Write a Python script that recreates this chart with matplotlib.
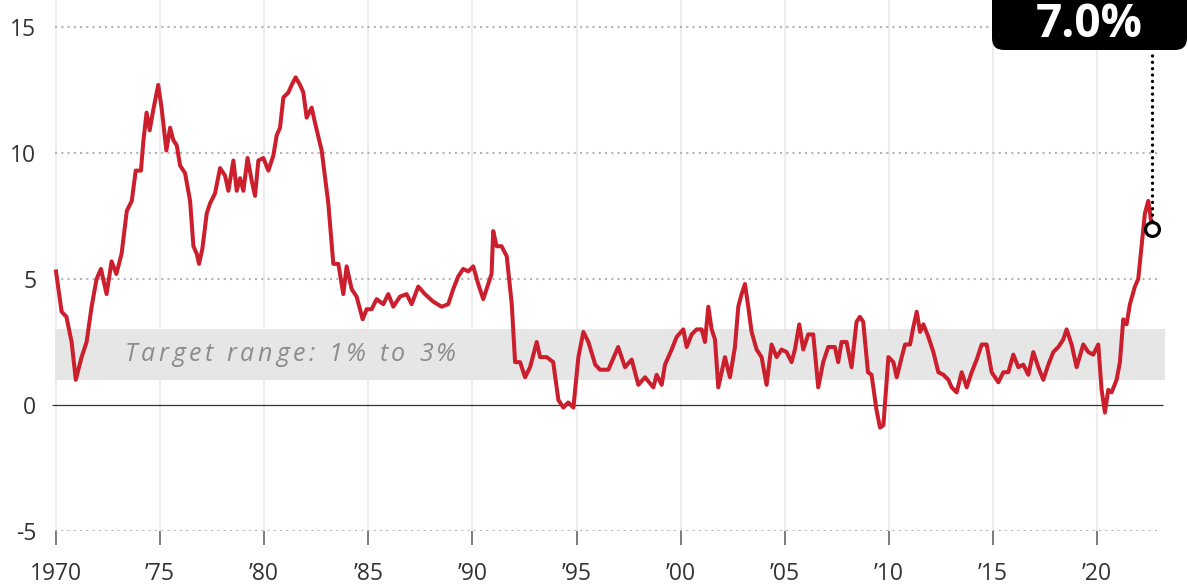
import matplotlib.pyplot as plt
from matplotlib.patches import FancyBboxPatch

# Year-over-year CPI change, %
years = [
    1970.0, 1970.27, 1970.5, 1970.75, 1970.95, 1971.23, 1971.47, 1971.71, 1971.95,
    1972.16, 1972.43, 1972.67, 1972.9, 1973.15, 1973.4, 1973.64, 1973.83, 1974.08,
    1974.2, 1974.35, 1974.5, 1974.67, 1974.91, 1975.07, 1975.3, 1975.48, 1975.64,
    1975.8, 1975.96, 1976.2, 1976.44, 1976.6, 1976.76, 1976.87, 1977.03, 1977.24,
    1977.4, 1977.64, 1977.88, 1978.12, 1978.28, 1978.52, 1978.68, 1978.84, 1979.0,
    1979.2, 1979.4, 1979.56, 1979.72, 1979.96, 1980.2, 1980.44, 1980.6, 1980.76,
    1980.92, 1981.16, 1981.32, 1981.51, 1981.72, 1981.88, 1982.04, 1982.28, 1982.44,
    1982.76, 1983.08, 1983.32, 1983.56, 1983.8, 1983.96, 1984.2, 1984.44, 1984.73,
    1984.92, 1985.16, 1985.4, 1985.72, 1985.96, 1986.2, 1986.52, 1986.84, 1987.08,
    1987.4, 1987.72, 1988.12, 1988.52, 1988.84, 1989.08, 1989.32, 1989.56, 1989.8,
    1990.04, 1990.28, 1990.52, 1990.76, 1990.92, 1991.0, 1991.16, 1991.4, 1991.65,
    1991.89, 1992.05, 1992.29, 1992.53, 1992.77, 1993.09, 1993.25, 1993.57, 1993.88,
    1994.13, 1994.37, 1994.6, 1994.85, 1995.09, 1995.33, 1995.57, 1995.9, 1996.13,
    1996.53, 1997.0, 1997.33, 1997.65, 1997.97, 1998.29, 1998.69, 1998.85, 1999.09,
    1999.25, 1999.57, 1999.81, 2000.13, 2000.29, 2000.53, 2000.77, 2001.01, 2001.17,
    2001.33, 2001.49, 2001.65, 2001.81, 2001.97, 2002.13, 2002.37, 2002.61, 2002.77,
    2002.93, 2003.09, 2003.25, 2003.41, 2003.65, 2003.89, 2004.13, 2004.37, 2004.61,
    2004.85, 2005.09, 2005.33, 2005.49, 2005.7, 2005.89, 2006.13, 2006.37, 2006.61,
    2006.85, 2007.09, 2007.41, 2007.57, 2007.73, 2007.97, 2008.21, 2008.45, 2008.61,
    2008.77, 2009.0, 2009.17, 2009.41, 2009.58, 2009.74, 2009.98, 2010.22, 2010.38,
    2010.62, 2010.78, 2011.02, 2011.18, 2011.34, 2011.5, 2011.66, 2011.9, 2012.14,
    2012.38, 2012.62, 2012.86, 2013.02, 2013.26, 2013.5, 2013.74, 2013.98, 2014.22,
    2014.46, 2014.7, 2014.94, 2015.26, 2015.5, 2015.74, 2015.98, 2016.22, 2016.46,
    2016.7, 2016.94, 2017.18, 2017.42, 2017.66, 2017.9, 2018.14, 2018.38, 2018.54,
    2018.78, 2019.02, 2019.34, 2019.58, 2019.82, 2020.06, 2020.22, 2020.38, 2020.54,
    2020.7, 2020.94, 2021.1, 2021.26, 2021.42, 2021.58, 2021.82, 2021.98, 2022.14,
    2022.3, 2022.46, 2022.55, 2022.64,
]
cpi = [
    5.3, 3.7, 3.5, 2.5, 1.0, 1.9, 2.5, 3.9, 5.0,
    5.4, 4.4, 5.7, 5.2, 6.0, 7.7, 8.1, 9.3, 9.3,
    10.5, 11.6, 10.9, 11.7, 12.7, 11.8, 10.1, 11.0, 10.5,
    10.3, 9.5, 9.2, 8.1, 6.3, 6.0, 5.6, 6.2, 7.6,
    8.0, 8.4, 9.4, 9.1, 8.5, 9.7, 8.5, 9.0, 8.5,
    9.8, 8.9, 8.3, 9.7, 9.8, 9.3, 9.9, 10.7, 11.0,
    12.2, 12.4, 12.7, 13.0, 12.7, 12.4, 11.4, 11.8, 11.2,
    10.1, 8.0, 5.6, 5.6, 4.4, 5.5, 4.6, 4.3, 3.4,
    3.8, 3.8, 4.2, 4.0, 4.4, 3.9, 4.3, 4.4, 4.0,
    4.7, 4.4, 4.1, 3.9, 4.0, 4.6, 5.1, 5.4, 5.3,
    5.5, 4.8, 4.2, 4.8, 5.2, 6.9, 6.3, 6.3, 5.9,
    4.0, 1.7, 1.7, 1.1, 1.5, 2.5, 1.9, 1.9, 1.7,
    0.2, -0.1, 0.1, -0.1, 1.9, 2.9, 2.5, 1.6, 1.4,
    1.4, 2.3, 1.5, 1.8, 0.8, 1.1, 0.7, 1.2, 0.8,
    1.6, 2.2, 2.7, 3.0, 2.3, 2.8, 3.0, 3.0, 2.5,
    3.9, 3.0, 2.6, 0.7, 1.3, 1.9, 1.1, 2.3, 3.9,
    4.4, 4.8, 3.9, 2.9, 2.2, 1.9, 0.8, 2.4, 1.9,
    2.2, 2.1, 1.7, 2.2, 3.2, 2.2, 2.8, 2.8, 0.7,
    1.7, 2.3, 2.3, 1.7, 2.5, 2.5, 1.5, 3.3, 3.5,
    3.3, 1.3, 1.2, -0.2, -0.9, -0.8, 1.9, 1.7, 1.1,
    1.9, 2.4, 2.4, 3.1, 3.7, 2.9, 3.2, 2.7, 2.1,
    1.3, 1.2, 1.0, 0.7, 0.5, 1.3, 0.7, 1.3, 1.8,
    2.4, 2.4, 1.3, 0.9, 1.3, 1.3, 2.0, 1.5, 1.6,
    1.2, 2.1, 1.5, 1.0, 1.6, 2.1, 2.3, 2.6, 3.0,
    2.4, 1.5, 2.4, 2.1, 2.0, 2.4, 0.6, -0.3, 0.6,
    0.5, 1.0, 1.7, 3.4, 3.2, 4.0, 4.7, 5.0, 6.3,
    7.6, 8.1, 7.6, 7.0,
]

y_ticks = [-5, 0, 5, 10, 15]
x_ticks = [1970, 1975, 1980, 1985, 1990, 1995, 2000, 2005, 2010, 2015, 2020]
x_labels = ['1970', '\u201975', '\u201980', '\u201985', '\u201990', '\u201995',
            '\u201900', '\u201905', '\u201910', '\u201915', '\u201920']
target_range = (1, 3)
target_text = 'Target range: 1% to 3%'
latest_text = '7.0%'

plt.rcParams['font.family'] = ['Open Sans', 'DejaVu Sans']

fig = plt.figure(figsize=(11.88, 5.86), dpi=100)
ax = fig.add_axes([48 / 1188, 55 / 586, 1140 / 1188, 531 / 586])
ax.set_xlim(1969.616, 2024.37)
ax.set_ylim(-5, 16.07)
for s in ax.spines.values():
    s.set_visible(False)

# grid
ax.vlines(x_ticks, -5, 16.07, color='#ebebeb', lw=1.3, zorder=0)
for y in [-5, 5, 10, 15]:
    ax.hlines(y, 1969.95, 2023.03, color='#b4b4b4', lw=1.5,
              linestyles=(0, (1, 2)), zorder=1)
ax.fill_between([1969.95, 2023.27], target_range[0], target_range[1],
                color='#e6e6e6', lw=0, zorder=1)
ax.hlines(0, 1969.81, 2023.17, color='#333333', lw=0.9, zorder=2)

# band label, letter-spaced: place each glyph by the width of its prefix
renderer = fig.canvas.get_renderer()
track = 3.6  # px between letters
x0, y0 = ax.transData.transform((1973.3, 2.0))
style = dict(fontsize=18, fontstyle='italic', color='#8c8c8c', va='center',
             ha='right', zorder=2, transform=None)
for i, ch in enumerate(target_text):
    if ch == ' ':
        continue
    probe = fig.text(0, 0, target_text[:i + 1], fontsize=18, fontstyle='italic')
    w = probe.get_window_extent(renderer).width
    probe.remove()
    ax.text(x0 + w + i * track, y0, ch, **style)

ax.plot(years, cpi, color='#cc1f2d', lw=2.9, solid_joinstyle='round', zorder=3)

# callout for the latest reading
ax.plot([years[-1], years[-1]], [cpi[-1] + 0.3, 14.09], color='black', lw=2.4,
        linestyle=(0, (0.01, 1.9)), dash_capstyle='round', zorder=4)
ax.plot(years[-1], cpi[-1], 'o', ms=10, mfc='white', mec='black', mew=2.3,
        zorder=5)
box = FancyBboxPatch((9.92, 5.36), 1.95, 0.7,
                     boxstyle='round,pad=0,rounding_size=0.12',
                     transform=fig.dpi_scale_trans, fc='black', ec='none')
fig.patches.append(box)
fig.text(1089 / 1188, 1 - 37 / 586, latest_text, color='white', fontsize=33,
         fontweight='bold', ha='center', va='baseline')

ax.set_yticks(y_ticks)
ax.set_yticklabels([str(v) for v in y_ticks])
ax.set_xticks(x_ticks)
ax.set_xticklabels(x_labels)
ax.tick_params(axis='y', length=0, pad=8.5, labelsize=16.5, labelcolor='#333333')
ax.tick_params(axis='x', direction='out', length=10, width=1.2, color='#666666',
               pad=12, labelsize=16.5, labelcolor='#333333')

fig.savefig('out.png', dpi=100)
